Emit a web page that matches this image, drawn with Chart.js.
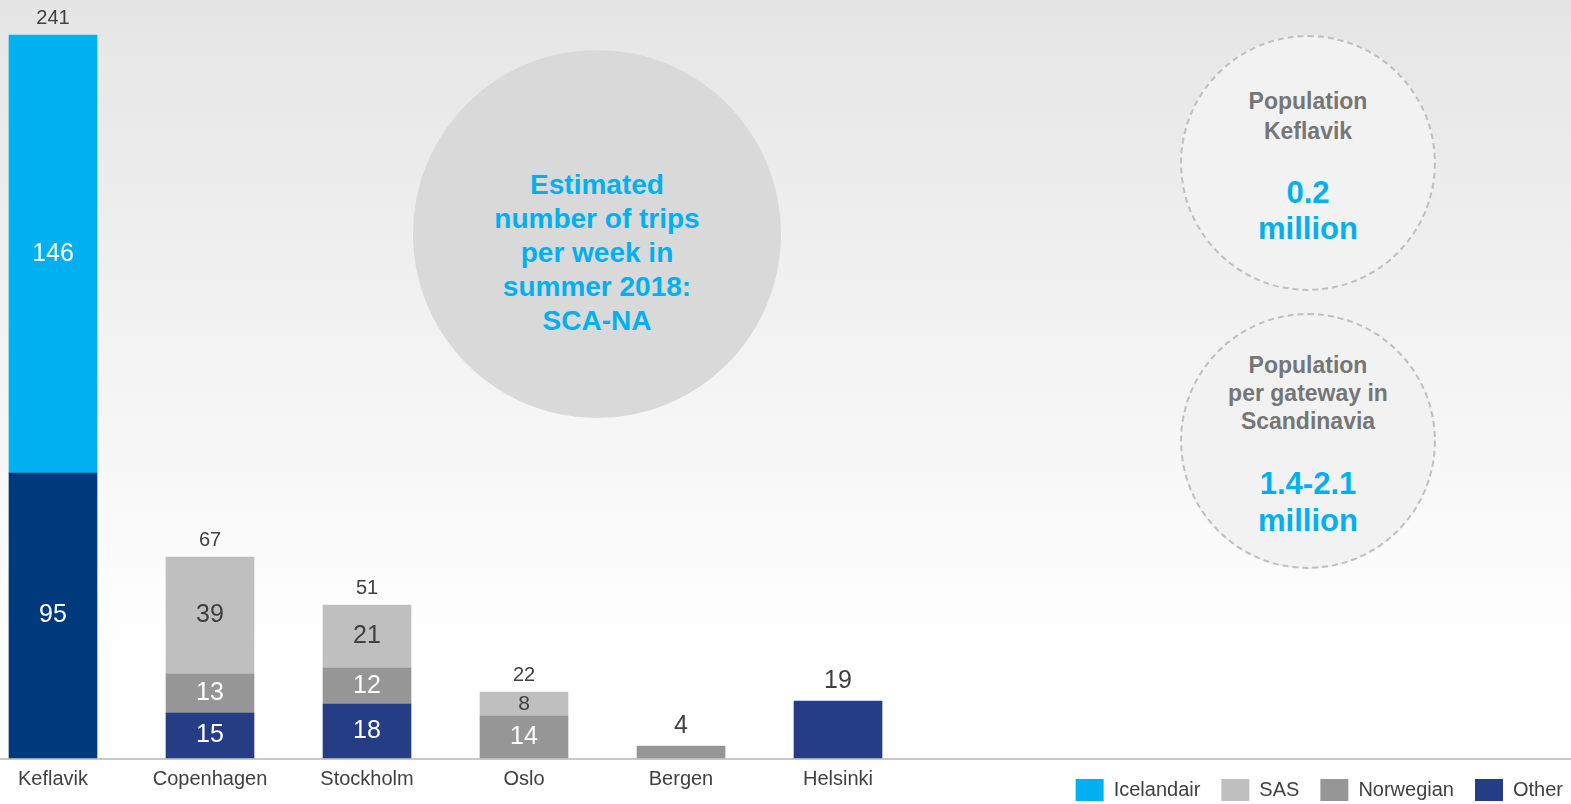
<!DOCTYPE html>
<html>
<head>
<meta charset="utf-8">
<title>Estimated trips per week SCA-NA</title>
<script src="https://cdn.jsdelivr.net/npm/chart.js@4.4.1/dist/chart.umd.min.js"></script>
<style>
  html, body { margin: 0; padding: 0; }
  body {
    position: relative;
    width: 1571px;
    height: 804px;
    overflow: hidden;
    background: linear-gradient(#e5e5e5 0px, #ffffff 660px);
    font-family: 'Liberation Sans', Arial, sans-serif;
  }
  #chart { position: absolute; left: 0; top: 0; }
  .bubble { position: absolute; border-radius: 50%; box-sizing: border-box; }
  .txt { position: absolute; text-align: center; font-weight: bold; white-space: nowrap; }
  .blue { color: #00b0f0; }
  .grey { color: #767676; }
</style>
</head>
<body>

<!-- annotation bubbles -->
<div class="bubble" style="left:413px; top:50px; width:368px; height:368px; background:#d9d9d9;"></div>
<div class="txt blue" style="left:413px; top:168px; width:368px; font-size:28px; line-height:34px;">
  Estimated<br>number of trips<br>per week in<br>summer 2018:<br>SCA-NA
</div>

<div class="bubble" style="left:1180px; top:35px; width:256px; height:256px; background:#f2f2f2; border:2px dashed #bfbfbf;"></div>
<div class="txt grey" style="left:1180px; top:86px; width:256px; font-size:23px; line-height:30px;">Population<br>Keflavik</div>
<div class="txt blue" style="left:1180px; top:175px; width:256px; font-size:31px; line-height:36px;">0.2<br>million</div>

<div class="bubble" style="left:1180px; top:313px; width:256px; height:256px; background:#f2f2f2; border:2px dashed #bfbfbf;"></div>
<div class="txt grey" style="left:1180px; top:351px; width:256px; font-size:23px; line-height:28px;">Population<br>per gateway in<br>Scandinavia</div>
<div class="txt blue" style="left:1180px; top:465px; width:256px; font-size:31px; line-height:37px;">1.4-2.1<br>million</div>

<canvas id="chart" width="1571" height="804"></canvas>

<script>
// ---- data ----
const categories = ['Keflavik', 'Copenhagen', 'Stockholm', 'Oslo', 'Bergen', 'Helsinki'];
const icelandair = [146, null, null, null, null, null];
const sas        = [null, 39, 21, 8, null, null];
const norwegian  = [null, 13, 12, 14, 4, null];
const other      = [95, 15, 18, null, null, 19];

const FONT = "'Liberation Sans', Arial, sans-serif";
const TEXT = '#404040';

// the x axis takes no layout height (legend sits beside its labels),
// so widen its box afterwards to keep the labels from being clipped
const axisRoom = {
  id: 'axisRoom',
  afterLayout(chart) {
    chart.scales.x.bottom = chart.height;
  }
};

// grey base line across the whole width
const baseline = {
  id: 'baseline',
  beforeDatasetsDraw(chart) {
    const ctx = chart.ctx;
    const y = chart.scales.y.getPixelForValue(0) + 1;
    ctx.save();
    ctx.strokeStyle = '#c8c8c8';
    ctx.lineWidth = 2;
    ctx.beginPath();
    ctx.moveTo(0, y);
    ctx.lineTo(chart.width, y);
    ctx.stroke();
    ctx.restore();
  }
};

// segment values inside, totals above
const barLabels = {
  id: 'barLabels',
  afterDatasetsDraw(chart) {
    const ctx = chart.ctx;
    ctx.save();
    ctx.textAlign = 'center';
    ctx.textBaseline = 'middle';
    categories.forEach((cat, i) => {
      const segs = [];
      chart.data.datasets.forEach((ds, d) => {
        const v = ds.data[i];
        if (v == null) return;
        segs.push({ v: v, bar: chart.getDatasetMeta(d).data[i], color: ds.labelColor });
      });
      if (!segs.length) return;
      const top = segs[segs.length - 1].bar;

      if (segs.length === 1) {
        ctx.font = '25px ' + FONT;
        ctx.fillStyle = TEXT;
        ctx.fillText(segs[0].v, top.x, top.y - 20);
        return;
      }

      segs.forEach(s => {
        const h = s.bar.base - s.bar.y;
        ctx.font = (h < 30 ? 21 : 25) + 'px ' + FONT;
        ctx.fillStyle = s.color;
        ctx.fillText(s.v, s.bar.x, s.bar.y + h / 2);
      });

      const total = segs.reduce((a, s) => a + s.v, 0);
      ctx.font = '20px ' + FONT;
      ctx.fillStyle = TEXT;
      ctx.fillText(total, top.x, top.y - 17);
    });
    ctx.restore();
  }
};

new Chart(document.getElementById('chart'), {
  type: 'bar',
  data: {
    labels: categories,
    datasets: [
      {
        label: 'Other',
        data: other,
        // Keflavik's "other" is a darker navy
        backgroundColor: c => c.dataIndex === 0 ? '#003a7d' : '#253d84',
        legendColor: '#253d84',
        labelColor: '#ffffff'
      },
      { label: 'Norwegian', data: norwegian, backgroundColor: '#969696', labelColor: '#ffffff' },
      { label: 'SAS', data: sas, backgroundColor: '#bfbfbf', labelColor: TEXT },
      { label: 'Icelandair', data: icelandair, backgroundColor: '#00b0f0', labelColor: '#ffffff' }
    ]
  },
  options: {
    responsive: false,
    animation: false,
    layout: { padding: { top: 8, right: -13, bottom: -7, left: 0 } },
    datasets: {
      bar: { barThickness: 88, clip: false, borderWidth: 0 }
    },
    scales: {
      x: {
        stacked: true,
        offset: false,
        grid: { display: false, drawTicks: false },
        border: { display: false },
        ticks: {
          color: TEXT,
          font: { size: 20, family: FONT },
          padding: 9,
          maxRotation: 0,
          autoSkip: false
        },
        afterFit: s => { s.height = 0; }
      },
      y: {
        stacked: true,
        min: 0,
        max: 250,
        ticks: { display: false },
        grid: { display: false },
        border: { display: false },
        afterFit: s => { s.width = 53; }
      },
      y2: {
        position: 'right',
        ticks: { display: false },
        grid: { display: false },
        border: { display: false },
        afterFit: s => { s.width = 746; }
      }
    },
    plugins: {
      legend: {
        position: 'bottom',
        align: 'end',
        reverse: true,
        labels: {
          boxWidth: 28,
          boxHeight: 22,
          padding: 21,
          color: TEXT,
          font: { size: 20, family: FONT },
          generateLabels: chart =>
            Chart.defaults.plugins.legend.labels.generateLabels(chart).map(item => {
              const ds = chart.data.datasets[item.datasetIndex];
              if (ds.legendColor) item.fillStyle = ds.legendColor;
              return item;
            })
        }
      },
      tooltip: { enabled: false }
    }
  },
  plugins: [axisRoom, baseline, barLabels]
});
</script>
</body>
</html>
